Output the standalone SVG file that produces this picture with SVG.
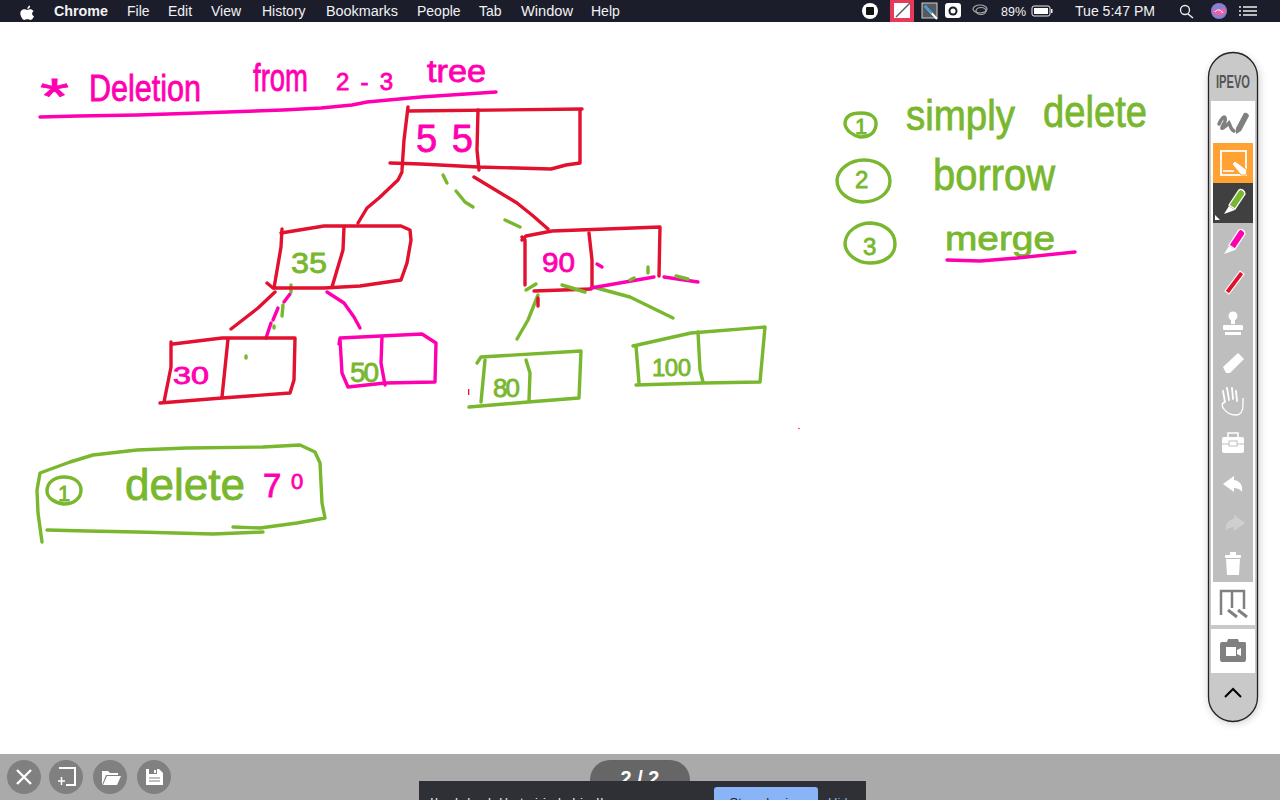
<svg xmlns="http://www.w3.org/2000/svg" width="1280" height="800" viewBox="0 0 1280 800">
<style>
.r,.m,.g{fill:none;stroke-width:3.400;stroke-linecap:round;stroke-linejoin:round}
.r{stroke:#e2112f}.m{stroke:#ff00b0}.g{stroke:#78b72e}
.tm,.tg{font-family:"Liberation Sans",Arial,sans-serif;stroke-width:.8}
.tm{fill:#ff00b0;stroke:#ff00b0}.tg{fill:#78b72e;stroke:#78b72e}
.menu{font-family:"Liberation Sans",Arial,sans-serif;font-size:14px;fill:#f2f2f2}
.ico{fill:#fff}.gi{fill:#808080}.wl{fill:none;stroke:#fff;stroke-width:2}
</style>
<defs><filter id="blur" x="-30%" y="-5%" width="160%" height="110%"><feGaussianBlur stdDeviation="4"/></filter></defs>
<rect width="1280" height="800" fill="#fff"/>

<g id="title">
<text class="tm" x="40" y="114" font-size="50" textLength="29" lengthAdjust="spacingAndGlyphs">*</text>
<text class="tm" x="89" y="101" font-size="36" textLength="112" lengthAdjust="spacingAndGlyphs">Deletion</text>
<text class="tm" x="253" y="91" font-size="38" textLength="55" lengthAdjust="spacingAndGlyphs">from</text>
<text class="tm" x="336" y="90" font-size="24" textLength="57" lengthAdjust="spacing">2-3</text>
<text class="tm" x="427" y="82" font-size="32" textLength="59" lengthAdjust="spacingAndGlyphs">tree</text>
<polyline class="m" points="40,117 78,116 138,115 199,113 283,110 321,108 352,105 367,102 421,97 496,92"/>
</g>

<g id="connectors">
<polyline class="r" points="402,172 398,180 379,198 367,208 358,223"/>
<polyline class="r" points="474,177 517,203 532,215 548,229"/>
<polyline class="g" points="443,175 447,183"/>
<polyline class="g" points="456,191 465,202 473,207"/>
<polyline class="g" points="505,220 520,227"/>
<polyline class="r" points="275,292 258,308 231,329"/>
<polyline class="m" points="290,294 284,302"/>
<polyline class="m" points="278,308 273,320"/>
<polyline class="m" points="271,323 266,338"/>
<polyline class="g" points="291,285 291,292"/>
<polyline class="g" points="283,305 282,316"/>
<polyline class="g" points="274,326 274,328"/>
<polyline class="m" points="327,292 344,303 354,317 360,328"/>
<polyline class="g" points="538,295 528,320 517,339"/>
<polyline class="g" points="526,290 536,284"/>
<polyline class="g" points="593,287 630,297 673,318"/>
<polyline class="r" stroke-width="2" points="538,298 538,306"/>
</g>

<g id="node-55">
<polyline class="r" points="408,107 404,140 402,170"/>
<polyline class="r" points="408,111 582,109"/>
<polyline class="r" points="580,110 580,163 566,165 551,169 478,167 421,164 390,163"/>
<polyline class="r" points="478,110 477,150 479,170"/>
<text class="tm" x="416" y="152" font-size="38" stroke-width=".2" textLength="57" lengthAdjust="spacing">55</text>
</g>

<g id="node-35">
<polyline class="r" points="282,229 281,247 274,288"/>
<polyline class="r" points="281,233 324,226 401,226 410,230 411,240 407,263 401,280 360,286 324,288 273,288 267,283"/>
<polyline class="r" points="344,227 343,250 332,287"/>
<text class="tg" x="291" y="273" font-size="29" textLength="36" lengthAdjust="spacingAndGlyphs">35</text>
</g>

<g id="node-90">
<polyline class="r" points="522,237 525,240 525,285"/>
<polyline class="r" points="522,240 526,236 552,231 660,227 659,276"/>
<polyline class="r" points="534,291 591,289"/>
<polyline class="r" points="589,233 592,260 592,288"/>
<polyline class="m" points="591,288 654,277"/>
<polyline class="m" points="664,277 698,282"/>
<polyline class="m" points="597,264 602,267"/>
<polyline class="g" points="648,267 648,273"/>
<polyline class="g" stroke-width="4.500" points="562,285 585,292"/>
<polyline class="g" stroke-width="1.500" points="630,280 634,278"/>
<polyline class="g" stroke-width="1.500" points="676,276 688,279"/>
<text class="tm" x="542" y="272" font-size="28" textLength="33" lengthAdjust="spacingAndGlyphs">90</text>
</g>

<g id="node-30">
<polyline class="r" points="171,342 171,367 164,402"/>
<polyline class="r" points="173,344 222,338 295,338 294,380 290,393 222,398 160,403"/>
<polyline class="r" points="228,339 222,397"/>
<polyline class="g" stroke-width="1.500" points="246,356 246,358"/>
<text class="tm" x="173" y="384" font-size="24" textLength="36" lengthAdjust="spacingAndGlyphs">30</text>
</g>

<g id="node-50">
<polyline class="m" points="340,339 342,373 348,387 385,383 435,382 436,343 422,334 340,338 339,344"/>
<polyline class="m" points="382,337 381,363 385,385"/>
<text class="tg" x="350" y="382" font-size="28" textLength="29" lengthAdjust="spacing">50</text>
</g>

<g id="node-80">
<polyline class="g" points="485,360 481,402"/>
<polyline class="g" points="477,363 481,357 581,351 579,398 528,402 469,407"/>
<polyline class="g" points="526,360 530,373 529,400"/>
<text class="tg" x="493" y="397" font-size="26" textLength="27" lengthAdjust="spacing">80</text>
</g>

<g id="node-100">
<polyline class="g" points="636,346 639,383"/>
<polyline class="g" points="633,346 691,333 765,327 760,382 703,383 636,385"/>
<polyline class="g" points="698,332 700,370 703,382"/>
<text class="tg" x="652" y="376" font-size="24" textLength="39" lengthAdjust="spacing">100</text>
</g>

<g id="notes">
<path class="g" d="M845 124C845 116 852 113 861 113C870 113 877 117 876 125C875 133 870 137 860 137C854 136 846 131 845 124Z"/>
<text class="tg" x="855" y="134" font-size="22">1</text>
<text class="tg" x="906" y="130" font-size="42" textLength="109" lengthAdjust="spacingAndGlyphs">simply</text>
<text class="tg" x="1043" y="127" font-size="44" textLength="104" lengthAdjust="spacingAndGlyphs">delete</text>
<path class="g" d="M837 180C838 169 850 160 864 160C880 160 890 170 890 181C890 193 878 202 862 202C848 201 837 192 837 180Z"/>
<text class="tg" x="855" y="188" font-size="24">2</text>
<text class="tg" x="933" y="190" font-size="44" textLength="122" lengthAdjust="spacingAndGlyphs">borrow</text>
<path class="g" d="M845 243C846 231 858 223 871 223C885 224 895 232 895 244C895 256 884 263 870 263C857 263 845 254 845 243Z"/>
<text class="tg" x="863" y="255" font-size="24">3</text>
<text class="tg" x="945" y="250" font-size="34" textLength="110" lengthAdjust="spacingAndGlyphs">merge</text>
<polyline class="m" points="947,260 980,261 1017,258 1075,252"/>
</g>

<g id="delete-70">
<polyline class="g" points="42,542 38,513 37,490 40,473 70,462 93,455 137,450 187,448 263,447 300,445 315,452 320,463 322,503 325,518 297,523 260,528 233,527"/>
<polyline class="g" points="47,530 87,531 137,532 213,534 263,532"/>
<path class="g" d="M47 491C47 482 55 477 64 477C74 477 81 482 81 490C81 499 73 504 64 504C55 503 47 498 47 491Z"/>
<text class="tg" x="58" y="501" font-size="22">1</text>
<text class="tg" x="125" y="500" font-size="44" textLength="120" lengthAdjust="spacingAndGlyphs">delete</text>
<text class="tm" x="263" y="497" font-size="33" stroke-width="1">7<tspan x="291" dy="-8" font-size="22">0</tspan></text>
</g>
<circle cx="799" cy="428.500" r=".8" fill="#ff00b0"/>
<rect x="468" y="389" width="1.300" height="6" fill="#e2112f"/>

<g id="menubar">
<rect width="1280" height="22" fill="#1b1d2b"/>
<path class="ico" d="M30 5.500C30.400 7.500 28.800 9 27.400 9C27.100 7.500 28.500 5.800 30 5.500ZM23 9.500C25 8.800 26.200 10 27.300 10C28.500 10 30 8.700 32 9.700C32.800 10.100 33.300 10.700 33.600 11.300C31.400 12.600 31.700 15.400 34 16.300C33.300 18 32 20 30.700 20C29.500 20 29 19.300 27.400 19.300C25.800 19.300 25.300 20 24.200 20C22.500 20 20.300 15.800 20.300 13.300C20.300 11.200 21.600 10 23 9.500Z"/>
<text class="menu" x="54" y="16" font-weight="bold" textLength="54" lengthAdjust="spacingAndGlyphs">Chrome</text>
<text class="menu" x="127" y="16">File</text>
<text class="menu" x="168" y="16">Edit</text>
<text class="menu" x="211" y="16">View</text>
<text class="menu" x="262" y="16">History</text>
<text class="menu" x="326" y="16" textLength="72" lengthAdjust="spacingAndGlyphs">Bookmarks</text>
<text class="menu" x="417" y="16">People</text>
<text class="menu" x="479" y="16">Tab</text>
<text class="menu" x="521" y="16" textLength="52" lengthAdjust="spacingAndGlyphs">Window</text>
<text class="menu" x="591" y="16">Help</text>
<circle cx="870" cy="11" r="8" fill="#fff"/><rect x="866" y="7" width="8" height="8" rx="1" fill="#111"/>
<rect x="890" y="0" width="24" height="22" fill="#e8395a"/><rect x="894" y="3" width="16" height="15" fill="#fff"/><path d="M896 17L910 3" stroke="#5a5a6a" stroke-width="1.500"/>
<rect x="922" y="3" width="15" height="15" fill="#555a60" stroke="#cfcfcf"/><path d="M925 6L937 19" stroke="#fff" stroke-width="2"/><path d="M925 6L932 13" stroke="#2a9bd8" stroke-width="2"/>
<rect x="945" y="3" width="16" height="15" rx="3" fill="#fff"/><circle cx="953" cy="11" r="4.500" fill="#1b1d2b"/><circle cx="953" cy="11" r="2.500" fill="#fff"/>
<ellipse cx="980" cy="9" rx="7" ry="4" fill="none" stroke="#aaa" stroke-width="1.200"/><ellipse cx="981" cy="11" rx="5" ry="3.500" fill="none" stroke="#aaa" stroke-width="1.200"/>
<text class="menu" x="1001" y="16" textLength="25" lengthAdjust="spacingAndGlyphs" style="font-size:13px">89%</text>
<rect x="1032" y="6" width="18" height="10" rx="2" fill="none" stroke="#eee"/><rect x="1034" y="8" width="14" height="6" fill="#fff"/><rect x="1051" y="9" width="1.500" height="4" fill="#eee"/>
<text class="menu" x="1075" y="16" textLength="80" lengthAdjust="spacingAndGlyphs">Tue 5:47 PM</text>
<circle cx="1185" cy="10" r="4.500" fill="none" stroke="#eee" stroke-width="1.300"/><path d="M1188 14L1193 18" stroke="#eee" stroke-width="1.600"/>
<circle cx="1219" cy="11" r="8" fill="#8a7fd0"/><path d="M1212 12C1215 7 1218 14 1221 9C1223 6 1225 9 1226 11C1224 16 1217 17 1212 12Z" fill="#f060a0"/><path d="M1215 12C1217 9 1220 9 1223 13" fill="none" stroke="#fff"/>
<path d="M1243 7H1257M1243 11H1257M1243 15H1257" stroke="#eee" stroke-width="1.500"/><path d="M1239 7H1241M1239 11H1241M1239 15H1241" stroke="#eee" stroke-width="1.500"/>
</g>

<g id="toolbar">
<rect x="1209" y="55" width="50" height="668" rx="25" fill="#000" opacity=".22" filter="url(#blur)"/>
<rect x="1208.500" y="52.500" width="49" height="669" rx="24.500" fill="#c9c9c9" stroke="#222" stroke-width="1.300"/>
<text x="1233" y="88" text-anchor="middle" font-family="'Liberation Sans',Arial,sans-serif" font-weight="bold" font-size="19" fill="#555" textLength="34" lengthAdjust="spacingAndGlyphs">IPEVO</text>
<rect x="1211" y="101" width="44" height="481" fill="#fff"/>
<rect x="1213" y="143" width="40" height="40" fill="#ffa233"/>
<rect x="1213" y="183" width="40" height="40" fill="#404040"/>
<rect x="1213" y="223" width="40" height="359" fill="#bebebe"/>
<rect x="1211" y="582" width="44" height="43" fill="#fff"/>
<rect x="1211" y="629" width="44" height="44" fill="#fff"/>

<path d="M1219 124C1224 112 1228 118 1223 125C1219 132 1226 126 1229 123C1231 127 1231 130 1234 131" fill="none" stroke="#808080" stroke-width="3.500" stroke-linecap="round"/>
<path d="M1236 128L1244 113C1246 112 1249 114 1249 116L1241 131L1236 134Z" fill="#808080"/>

<rect x="1221" y="151" width="25" height="24" fill="none" stroke="#fff" stroke-width="1.800"/>
<path d="M1223 171H1234" stroke="#fff" stroke-width="1.500"/>
<path d="M1232 164L1235 161L1247 170L1246 175L1241 175Z" fill="#fff" stroke="#ffa233"/>

<path d="M1229 205L1239 190C1241 188 1245 191 1245 194L1235 209Z" fill="#78b72e" stroke="#fff" stroke-width="1.300"/>
<path d="M1229 206L1235 210L1224 214Z" fill="#fff"/>
<path d="M1215 220L1220 220L1215 215Z" fill="#fff"/>

<path d="M1229 245L1239 230C1241 228 1245 231 1245 234L1235 249Z" fill="#ff00b0" stroke="#fff" stroke-width="1.300"/>
<path d="M1229 246L1235 250L1224 254Z" fill="#fff"/>

<path d="M1225 291L1240 271L1244 274L1229 294Z" fill="#e2112f" stroke="#fff" stroke-width="1.200"/>

<circle cx="1233" cy="316" r="4.500" fill="#fff"/><rect x="1231" y="319" width="4" height="5" fill="#fff"/>
<rect x="1223" y="325" width="20" height="5" rx="1" fill="#fff"/><rect x="1225" y="332" width="16" height="3" fill="#fff"/>

<path d="M1223 367L1238 353L1244 359L1230 373L1226 373Z" fill="#fff"/>

<path d="M1225 402L1223 391M1229 400L1227 388M1233 399L1232 388M1237 401L1236 391" stroke="#fff" stroke-width="1.800" stroke-linecap="round" fill="none"/>
<path d="M1225 402C1221 403 1222 407 1224 409C1226 412 1230 415 1236 415C1241 415 1243 410 1243 405L1243 398" fill="none" stroke="#fff" stroke-width="1.300"/>

<rect x="1222" y="437" width="22" height="16" rx="2" fill="#fff"/>
<path d="M1228 437V433H1238V437" fill="none" stroke="#fff" stroke-width="1.500"/>
<path d="M1222 444H1244" stroke="#bebebe"/><rect x="1229" y="441" width="8" height="5" fill="#fff" stroke="#bebebe"/>

<path d="M1223 484L1234 476V480C1240 481 1243 485 1242 492C1240 489 1237 488 1234 488V492Z" fill="#fff"/>
<path d="M1245 523L1234 515V519C1228 520 1225 524 1226 531C1228 528 1231 527 1234 527V531Z" fill="#cfcfcf"/>

<rect x="1230" y="552" width="6" height="3" fill="#fff"/><rect x="1225" y="555" width="16" height="3" rx="1" fill="#fff"/>
<path d="M1226 559H1240L1239 575H1227Z" fill="#fff"/>

<path d="M1221 615V591H1244V609M1232 591V608" fill="none" stroke="#808080" stroke-width="2.500"/>
<path d="M1228 610L1237 617M1238 610L1247 617" stroke="#808080" stroke-width="3"/>

<path d="M1228 639H1238L1239 642H1245Q1246 642 1246 644V659Q1246 662 1244 662H1222Q1220 662 1220 659V644Q1220 642 1222 642H1227Z" fill="#808080"/>
<rect x="1226" y="647" width="10" height="9" fill="#fff"/><path d="M1237 650L1241 648V656L1237 654Z" fill="#fff"/>

<path d="M1225 697L1233 689L1241 697" fill="none" stroke="#000" stroke-width="2"/>
</g>

<g id="bottombar">
<rect y="754" width="1280" height="46" fill="#aaa"/>
<circle cx="24" cy="777" r="17" fill="#808080"/>
<path d="M17 770L31 784M31 770L17 784" stroke="#fff" stroke-width="2.400"/>
<circle cx="66" cy="777" r="17" fill="#808080"/>
<path d="M59 768H75V785H66" class="wl" stroke-width="1.800"/><path d="M58 781H65M61.500 777V785" stroke="#fff" stroke-width="1.500"/>
<circle cx="110" cy="777" r="17" fill="#808080"/>
<path d="M102 771H108L110 773H118V775H106L102 785ZM107 776H121L117 785H103Z" fill="#fff"/>
<circle cx="154" cy="777" r="17" fill="#808080"/>
<path d="M146 769H159L163 773V785H146Z" fill="#fff"/><rect x="149" y="769" width="8" height="5" fill="#808080"/><rect x="154" y="770" width="2" height="3" fill="#fff"/><path d="M149 778H160M149 781H160" stroke="#808080" stroke-width="1.200"/>
<rect x="590" y="760" width="100" height="50" rx="20" fill="#666"/>
<text x="640" y="785" text-anchor="middle" font-family="'Liberation Sans',Arial,sans-serif" font-weight="bold" font-size="20" fill="#fff">2 / 2</text>
<rect x="419" y="781" width="447" height="30" fill="#2f3035"/>
<rect x="714" y="787" width="104" height="30" rx="3" fill="#8ab4f8"/>
<text x="766" y="807" text-anchor="middle" font-family="'Liberation Sans',Arial,sans-serif" font-size="13" fill="#202124">Stop sharing</text>
<text x="828" y="807" font-family="'Liberation Sans',Arial,sans-serif" font-size="13" fill="#8ab4f8">Hide</text>
<text x="430 435 455 463 488 495 505 520 535 543 558 568 580 592 600" y="807" font-family="'Liberation Sans',Arial,sans-serif" font-size="13" fill="#e8eaed">IlhdhdbtiihdidI</text>
</g>
</svg>
